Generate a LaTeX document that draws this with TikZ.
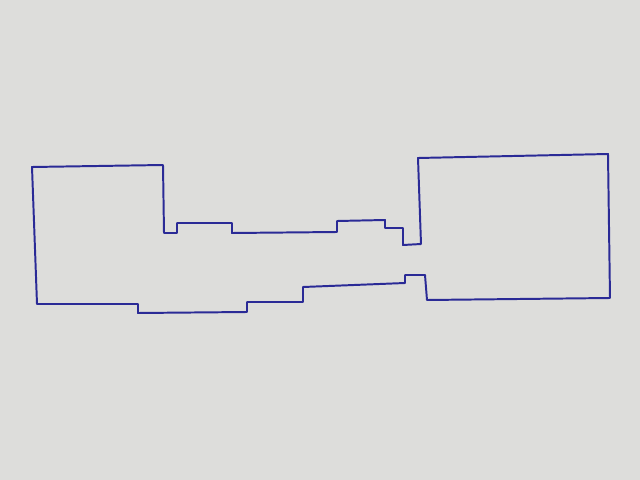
\documentclass[tikz,border=0pt]{standalone}
\usepackage{tikz}
\usetikzlibrary{positioning}
\definecolor{paper}{RGB}{221,221,219}
\definecolor{ink}{RGB}{42,42,150}
\tikzset{wall/.style = {draw=ink, line width=1.4pt, line join=round}}
\tikzset{sheet/.style = {fill=paper}}

\begin{document}
\begin{tikzpicture}[x=0.025cm, y=-0.025cm]
    \fill [sheet] (0,0) rectangle (640,480);
    \useasboundingbox (0,0) rectangle (640,480);
    % left room, upper run, right room, lower run
    \draw [wall] (32,167) -- (163,165) -- (164,233) -- (177,233) -- (177,223)
      -- (232,223) -- (232,233) -- (337,232) -- (337,221) -- (385,220)
      -- (385,228) -- (403,228) -- (403,245) -- (421,244) -- (418,158)
      -- (608,154) -- (610,298) -- (427,300) -- (425,275) -- (405,275)
      -- (405,283) -- (303,287) -- (303,302) -- (247,302) -- (247,312)
      -- (138,313) -- (138,304) -- (37,304) -- cycle;
  \end{tikzpicture}
\end{document}
